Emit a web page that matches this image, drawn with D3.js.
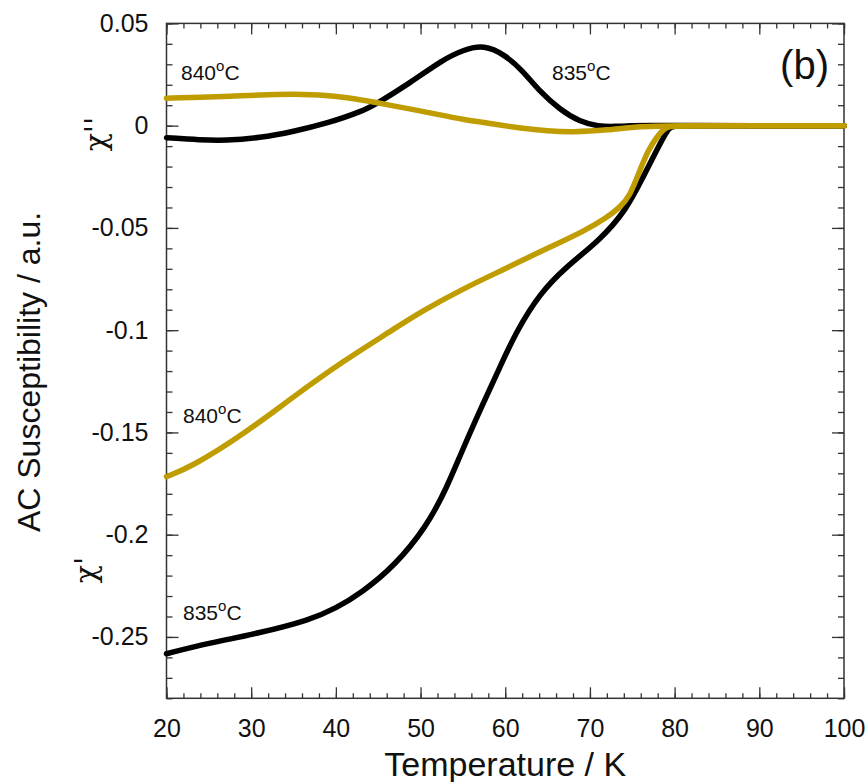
<!DOCTYPE html>
<html lang="en">
<head>
  <meta charset="UTF-8">
  <title>AC Susceptibility (b)</title>
  <script src="https://d3js.org/d3.v7.min.js"></script>
  <style>
    body, html {
      margin: 0;
      padding: 0;
      background: #fff;
    }
    svg text {
      font-family: "Liberation Sans", Arial, sans-serif;
      fill: #111;
    }
  </style>
</head>
<body>
  <svg width="868" height="782"></svg>
  <script>
    // Temperature (K) and susceptibility values
    const tImag835 = [20, 24, 27, 31, 35, 39, 43, 45, 48.7, 52.6, 55, 57.5, 60, 62, 64, 66.5, 68.8, 71, 73, 75, 77, 80, 100];
    const chiImag835 = [-0.0059, -0.0070, -0.0073, -0.0060, -0.0029, 0.0012, 0.0068, 0.0112, 0.0207, 0.0322, 0.0370, 0.0396, 0.0345, 0.0272, 0.0170, 0.0077, 0.0020, -0.0004, -0.0004, 0.0, 0.0002, 0, 0];

    const tImag840 = [20, 24, 28, 32, 36, 40, 43, 46, 49, 52, 55, 58, 62, 65, 68, 72, 76, 80, 100];
    const chiImag840 = [0.0134, 0.0138, 0.0145, 0.0151, 0.0155, 0.0145, 0.0126, 0.0103, 0.0080, 0.0055, 0.0030, 0.0012, -0.0014, -0.0026, -0.0032, -0.0022, -0.0003, 0, 0];

    const tReal835 = [20, 25, 31, 37, 40, 43, 47, 50.7, 53, 55, 57.4, 59.4, 61.3, 64.1, 67.2, 71.2, 74.3, 76.3, 77.9, 79.4, 80, 100];
    const chiReal835 = [-0.2582, -0.2530, -0.2481, -0.2416, -0.2360, -0.2285, -0.2150, -0.1960, -0.1780, -0.1580, -0.1357, -0.1178, -0.1007, -0.0819, -0.0689, -0.0559, -0.0412, -0.0249, -0.0119, 0, 0, 0];

    const tReal840 = [20, 23, 29, 35, 40.8, 46.7, 50, 55.5, 60, 63.3, 66, 69.2, 72, 73.5, 74.7, 75.9, 76.9, 77.9, 79, 80, 100];
    const chiReal840 = [-0.1716, -0.1667, -0.1512, -0.1325, -0.1153, -0.0999, -0.0910, -0.0787, -0.0700, -0.0632, -0.0580, -0.0518, -0.0450, -0.0400, -0.0347, -0.0217, -0.0119, -0.0054, -0.0005, 0, 0];

    const xTicks = [20, 30, 40, 50, 60, 70, 80, 90, 100];
    const yTicks = [-0.25, -0.2, -0.15, -0.1, -0.05, 0, 0.05];
    const yTickLabels = ['-0.25', '-0.2', '-0.15', '-0.1', '-0.05', '0', '0.05'];

    const black = '#000000';
    const gold = '#bf9c00';

    const svg = d3.select('svg');
    const margin = { left: 166.5, top: 23.4, right: 868 - 844, bottom: 782 - 698.3 };
    const width = 868 - margin.left - margin.right;
    const height = 782 - margin.top - margin.bottom;

    const x = d3.scaleLinear().domain([20, 100]).range([0, width]);
    const y = d3.scaleLinear().domain([-0.28, 0.05]).range([height, 0]);

    const g = svg.append('g').attr('transform', `translate(${margin.left},${margin.top})`);

    // Axes on all four sides, ticks pointing inward
    const xMinor = d3.range(20, 100.1, 2);
    const yMinor = d3.range(-0.28, 0.0501, 0.01).map((v) => +v.toFixed(2));

    function styleAxis(sel) {
      sel.select('.domain').remove();
      sel.selectAll('line').attr('stroke', '#333').attr('stroke-width', 1.3);
      sel.selectAll('text').attr('font-size', 25).attr('fill', '#111');
    }

    // bottom
    g.append('g').attr('transform', `translate(0,${height})`)
      .call(d3.axisBottom(x).tickValues(xMinor).tickSize(-5).tickFormat(''))
      .call(styleAxis);
    g.append('g').attr('transform', `translate(0,${height})`)
      .call(d3.axisBottom(x).tickValues(xTicks).tickSize(-11).tickPadding(21).tickFormat(d3.format('d')))
      .call(styleAxis);
    // top
    g.append('g')
      .call(d3.axisTop(x).tickValues(xMinor).tickSize(-5).tickFormat(''))
      .call(styleAxis);
    g.append('g')
      .call(d3.axisTop(x).tickValues(xTicks).tickSize(-11).tickFormat(''))
      .call(styleAxis);
    // left
    g.append('g')
      .call(d3.axisLeft(y).tickValues(yMinor).tickSize(-6).tickFormat(''))
      .call(styleAxis);
    g.append('g')
      .call(d3.axisLeft(y).tickValues(yTicks).tickSize(-12).tickPadding(18)
        .tickFormat((d, i) => yTickLabels[i]))
      .call(styleAxis);
    // right
    g.append('g').attr('transform', `translate(${width},0)`)
      .call(d3.axisRight(y).tickValues(yMinor).tickSize(-6).tickFormat(''))
      .call(styleAxis);
    g.append('g').attr('transform', `translate(${width},0)`)
      .call(d3.axisRight(y).tickValues(yTicks).tickSize(-12).tickFormat(''))
      .call(styleAxis);

    // frame
    g.append('rect')
      .attr('width', width).attr('height', height)
      .attr('fill', 'none').attr('stroke', '#333').attr('stroke-width', 1.5);

    // curves
    const line = d3.line()
      .x((d) => x(d[0]))
      .y((d) => y(d[1]))
      .curve(d3.curveBasis);

    const series = [
      { t: tReal835, v: chiReal835, color: black },
      { t: tImag835, v: chiImag835, color: black },
      { t: tReal840, v: chiReal840, color: gold },
      { t: tImag840, v: chiImag840, color: gold }
    ];

    g.append('g').selectAll('path')
      .data(series)
      .join('path')
      .attr('d', (s) => line(d3.zip(s.t, s.v)))
      .attr('fill', 'none')
      .attr('stroke', (s) => s.color)
      .attr('stroke-width', 5.5)
      .attr('stroke-linecap', 'round')
      .attr('stroke-linejoin', 'round');

    // curve labels with superscript degree
    function tempLabel(px, py, num) {
      const t = svg.append('text').attr('x', px).attr('y', py).attr('font-size', 21);
      t.append('tspan').text(num);
      t.append('tspan').attr('font-size', 15).attr('dy', -9).text('o');
      t.append('tspan').attr('dy', 9).text('C');
    }
    tempLabel(181, 80, '840');
    tempLabel(552, 80, '835');
    tempLabel(183, 423, '840');
    tempLabel(183, 620, '835');

    // panel label
    svg.append('text')
      .attr('x', 829).attr('y', 79)
      .attr('text-anchor', 'end')
      .attr('font-size', 40)
      .text('(b)');

    // axis titles
    svg.append('text')
      .attr('x', margin.left + width / 2).attr('y', 776)
      .attr('text-anchor', 'middle')
      .attr('font-size', 34)
      .text('Temperature / K');

    svg.append('text')
      .attr('transform', `translate(40,${372}) rotate(-90)`)
      .attr('text-anchor', 'middle')
      .attr('font-size', 32)
      .text('AC Susceptibility / a.u.');

    svg.append('text')
      .attr('transform', 'translate(106,134) rotate(-90)')
      .attr('text-anchor', 'middle')
      .attr('font-size', 30)
      .style('font-family', '"DejaVu Serif", serif')
      .text('\u03c7\'\'');

    svg.append('text')
      .attr('transform', 'translate(96,570) rotate(-90)')
      .attr('text-anchor', 'middle')
      .attr('font-size', 30)
      .style('font-family', '"DejaVu Serif", serif')
      .text('\u03c7\'');
  </script>
</body>
</html>
